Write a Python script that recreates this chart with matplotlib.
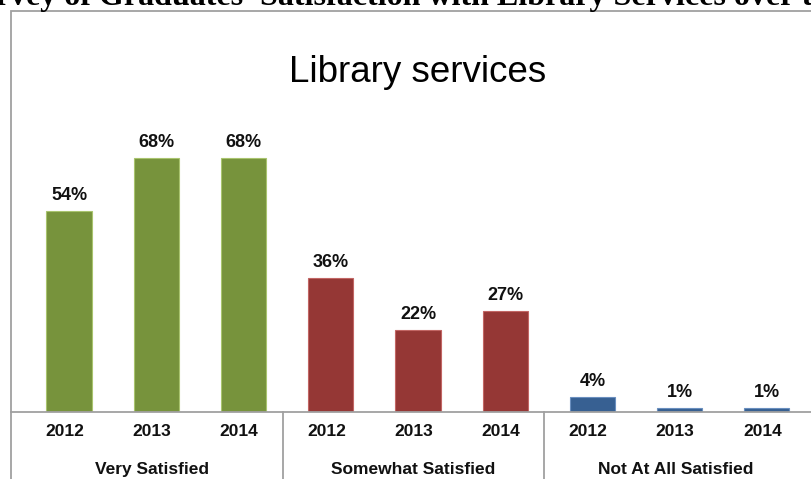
import matplotlib
matplotlib.use("Agg")
import matplotlib.pyplot as plt
from matplotlib.patches import Rectangle

# data
groups = ["Very Satisfied", "Somewhat Satisfied", "Not At All Satisfied"]
years = ["2012", "2013", "2014"]
very_satisfied = [54, 68, 68]
somewhat_satisfied = [36, 22, 27]
not_satisfied = [4, 1, 1]
colors = ["#77933C", "#953735", "#376092"]
edges = ["#A9C46E", "#C26664", "#6A8FBF"]

W, H = 811, 479
fig = plt.figure(figsize=(W / 100, H / 100), dpi=100)

# page heading, mostly cut off at the top of the screenshot
heading = "Survey of Graduates' Satisfaction with Library Services over the Years"
serif = dict(family="Liberation Serif", fontsize=23, weight="bold")
fig.canvas.draw()
r = fig.canvas.get_renderer()
tmp = fig.text(0, 0, "Su", **serif)
w_su = tmp.get_window_extent(r).width
tmp.remove()
fig.text((-4 - w_su) / W, 474 / H, heading, ha="left", va="baseline", **serif)

# chart frame
fig.patches.append(Rectangle((11 / W, -0.1), 1.2, (H - 11) / H + 0.1,
                             transform=fig.transFigure, fill=False,
                             edgecolor="#A0A0A0", linewidth=1.3))

base_y = 412
top_y = 95
ax = fig.add_axes([11 / W, (H - base_y) / H, (W - 11) / W, (base_y - top_y) / H])
ax.set_xlim(-0.617, 8.557)
ax.set_ylim(0, 85)
ax.axis("off")

font = "Liberation Sans"
px = 85 / (base_y - top_y)
series = [very_satisfied, somewhat_satisfied, not_satisfied]
for g, vals in enumerate(series):
    for k, v in enumerate(vals):
        x = g * 3 + k
        ax.bar(x + 0.05, v, width=0.52, color=colors[g], edgecolor=edges[g], linewidth=0.8)
        ax.annotate(f"{v}%", (x + 0.05, v), xytext=(0, 8), textcoords="offset points",
                    ha="center", va="baseline", fontsize=13, weight="bold",
                    family=font, color="#111111")
        ax.text(x, -24 * px, years[k], ha="center", va="baseline",
                fontsize=12.5, weight="bold", family=font, color="#111111")
    ax.text(g * 3 + 1, -62 * px, groups[g], ha="center", va="baseline",
            fontsize=12.5, weight="bold", family=font, color="#111111")

# baseline and group dividers
ax.axhline(0, color="#A0A0A0", linewidth=1.3, clip_on=False)
for sep in [2.5, 5.5]:
    ax.axvline(sep, ymin=-0.4, ymax=0, color="#A0A0A0", linewidth=1.3, clip_on=False)

fig.text(418 / W, (H - 82) / H, "Library services", ha="center", va="baseline",
         fontsize=26.5, family=font, color="#000000")

fig.savefig("out.png", dpi=100)
